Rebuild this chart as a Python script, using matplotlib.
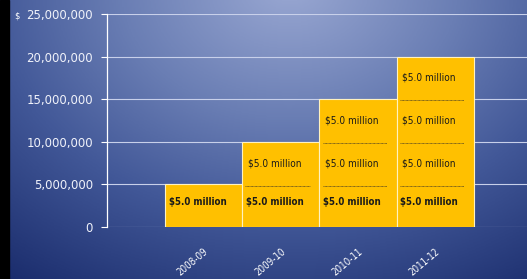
import numpy as np
import matplotlib.pyplot as plt
from matplotlib.colors import LinearSegmentedColormap
from matplotlib.ticker import FuncFormatter

years = ["2008-09", "2009-10", "2010-11", "2011-12"]
n_segments = [1, 2, 3, 4]
segment_value = 5_000_000
segment_label = "$5.0 million"
y_ticks = [0, 5_000_000, 10_000_000, 15_000_000, 20_000_000, 25_000_000]

W, H = 527, 279
fig = plt.figure(figsize=(W / 100, H / 100), dpi=100)

# background gradient (light patch near top centre, dark toward bottom corners)
bg = fig.add_axes([0, 0, 1, 1], zorder=-10)
yy, xx = np.mgrid[0:1:200j, 0:1:380j]
d = np.sqrt(((xx - 0.55) / 0.75) ** 2 + ((yy + 0.05) / 1.1) ** 2)
d = np.clip(d / 1.2, 0, 1)
cmap = LinearSegmentedColormap.from_list(
    "bg", [(0, "#94a3cf"), (0.33, "#6a7eb4"), (0.62, "#425898"), (1, "#1a2c6c")])
bg.imshow(d, cmap=cmap, aspect="auto", extent=[0, 1, 1, 0])
bg.axvspan(0, 9 / W, color="black")
bg.set_xlim(0, 1)
bg.set_ylim(1, 0)
bg.axis("off")

ax = fig.add_axes([107 / W, 52 / H, 1 - 107 / W, (227 - 14) / H])
ax.patch.set_visible(False)

x = np.arange(len(years))
totals = [n * segment_value for n in n_segments]
ax.bar(x, totals, width=1.0, color="#ffc000", edgecolor="#fff2c0", linewidth=0.8, zorder=3)

for i, n in enumerate(n_segments):
    for k in range(n):
        yc = (k + 0.5) * segment_value + (0.08 * segment_value if k == 0 else 0)
        ax.text(i - 0.08, yc, segment_label, ha="center", va="center",
                fontsize=6.9 if k == 0 else 7.2, fontstretch="condensed", color="#1a1a1a",
                fontweight="bold" if k == 0 else "normal", zorder=5)
        if k > 0:
            ax.hlines(k * segment_value - 0.03 * segment_value, i - 0.46, i + 0.38,
                      colors="#5a4a20", linestyles=(0, (1, 0.6)), linewidth=0.6, zorder=4)

ax.set_ylim(0, 25_000_000)
ax.set_xlim(-1.253, 4.19)
ax.set_yticks(y_ticks)
ax.yaxis.set_major_formatter(FuncFormatter(lambda v, p: f"{int(v):,}"))
ax.grid(axis="y", color="#c8d0ea", linewidth=0.8, zorder=0)
ax.set_axisbelow(True)

for s in ["top", "right", "bottom"]:
    ax.spines[s].set_visible(False)
ax.spines["left"].set_color("white")
ax.spines["left"].set_linewidth(0.9)
ax.tick_params(axis="y", colors="white", labelcolor="#f0f2fa", labelsize=8.5,
               length=4, width=0.8, pad=6)

ax.set_xticks(x)
ax.set_xticklabels(years, rotation=40, ha="right", va="top", rotation_mode="anchor",
                   fontsize=7, fontstretch="condensed", color="white")
ax.tick_params(axis="x", length=0, pad=14)

fig.text(14 / W, 1 - 16 / H, "$", fontsize=6, color="white", ha="left", va="center")

fig.savefig("out.png", dpi=100)
